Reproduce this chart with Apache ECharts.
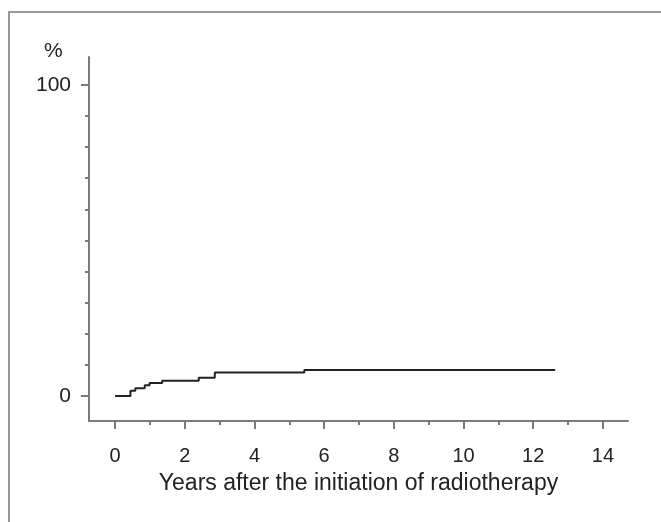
<!DOCTYPE html>
<html>
<head>
<meta charset="utf-8">
<script src="https://cdn.jsdelivr.net/npm/echarts@6/dist/echarts.min.js"></script>
<style>
  html, body { margin: 0; padding: 0; background: #fff; }
  #chart { width: 661px; height: 522px; }
</style>
</head>
<body>
<div id="chart"></div>
<script>
// step curve: years after start, cumulative %
const years = [0, 0.44, 0.58, 0.85, 0.99, 1.35, 2.40, 2.86, 5.43, 12.63]
const percent = [0, 1.7, 2.5, 3.5, 4.2, 4.9, 5.9, 7.6, 8.4, 8.4]

const xMajorTicks = [0, 2, 4, 6, 8, 10, 12, 14]
const xMinorTicks = [1, 3, 5, 7, 9, 11, 13]
const yMajorTicks = [0, 100]
const yMinorTicks = [10, 20, 30, 40, 50, 60, 70, 80, 90]

const axisColor = '#7a7a7a'
const textColor = '#222'
const font = 'Liberation Sans, Arial, sans-serif'

const chart = echarts.init(document.getElementById('chart'))

const xRange = { min: -0.75, max: 14.72 }
const yRange = { min: -8, max: 108.9 }

chart.setOption({
  backgroundColor: '#fff',
  animation: false,
  grid: { left: 89, right: 33, top: 57, bottom: 101 },
  graphic: [
    {
      type: 'polyline',
      shape: { points: [[9, 522], [9, 12], [661, 12]] },
      style: { stroke: '#999', lineWidth: 2, fill: null }
    },
    {
      type: 'text',
      left: 44,
      top: 41,
      style: { text: '%', fill: textColor, font: '21px ' + font }
    }
  ],
  xAxis: [
    {
      type: 'value',
      ...xRange,
      position: 'bottom',
      name: 'Years after the initiation of radiotherapy',
      nameLocation: 'middle',
      nameGap: 51,
      nameTextStyle: { color: textColor, fontSize: 23, fontFamily: font },
      axisLine: { onZero: false, lineStyle: { color: axisColor, width: 2 } },
      axisTick: { customValues: xMajorTicks, length: 8, lineStyle: { color: axisColor, width: 2 } },
      axisLabel: { customValues: xMajorTicks, margin: 25, color: textColor, fontSize: 20, fontFamily: font },
      splitLine: { show: false }
    },
    {
      type: 'value',
      ...xRange,
      position: 'bottom',
      axisLine: { show: false, onZero: false },
      axisTick: { customValues: xMinorTicks, length: 4, lineStyle: { color: axisColor, width: 2 } },
      axisLabel: { show: false },
      splitLine: { show: false }
    }
  ],
  yAxis: [
    {
      type: 'value',
      ...yRange,
      position: 'left',
      axisLine: { show: true, onZero: false, lineStyle: { color: axisColor, width: 2 } },
      axisTick: { show: true, customValues: yMajorTicks, length: 8, lineStyle: { color: axisColor, width: 2 } },
      axisLabel: { customValues: yMajorTicks, margin: 18, color: textColor, fontSize: 21, fontFamily: font },
      splitLine: { show: false }
    },
    {
      type: 'value',
      ...yRange,
      position: 'left',
      axisLine: { show: false, onZero: false },
      axisTick: { show: true, customValues: yMinorTicks, length: 4, lineStyle: { color: axisColor, width: 2 } },
      axisLabel: { show: false },
      splitLine: { show: false }
    }
  ],
  series: [
    {
      type: 'line',
      step: 'end',
      data: years.map((x, i) => [x, percent[i]]),
      showSymbol: false,
      lineStyle: { color: '#222', width: 2 },
      silent: true
    }
  ]
})
</script>
</body>
</html>
